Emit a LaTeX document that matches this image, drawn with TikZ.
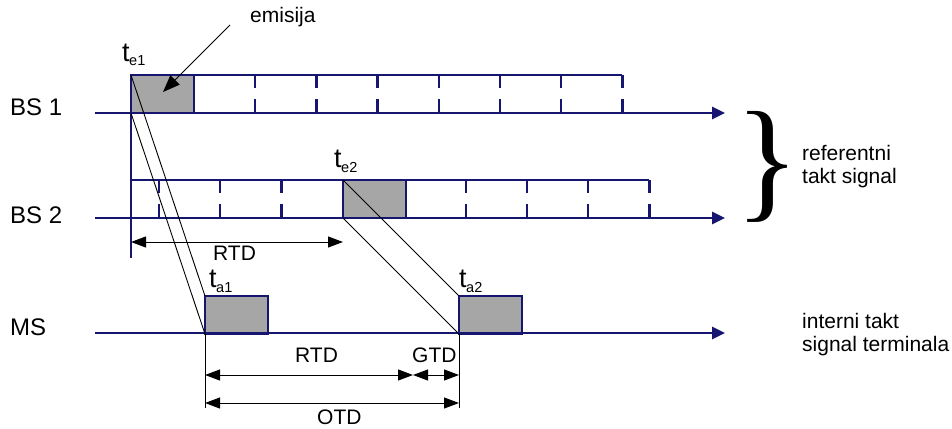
\documentclass[tikz,border=0pt]{standalone}
\usepackage{fontspec}
\setmainfont{Liberation Sans}
\newfontfamily\bracefont{Liberation Serif}
\usetikzlibrary{arrows.meta}
\definecolor{navy}{RGB}{22,22,112}
\definecolor{slotgray}{RGB}{166,166,166}
\begin{document}
\begin{tikzpicture}[x=1pt,y=-1pt,
  axis/.style={navy, line width=2.8pt, -{Triangle[length=13pt,width=12pt]}},
  clock/.style={navy, line width=2.3pt},
  slot/.style={draw=navy, fill=slotgray, line width=1.6pt, inner sep=0pt, outer sep=0pt,
               minimum width=63pt, minimum height=38pt, anchor=north west},
  ray/.style={black, line width=0.9pt},
  dim/.style={black, line width=1pt, {Triangle[length=15pt,width=11pt]}-{Triangle[length=15pt,width=11pt]}},
  rowlbl/.style={font=\fontsize{24}{24}\selectfont, inner sep=0pt, anchor=base west},
  lbl/.style={font=\fontsize{21}{21}\selectfont, inner sep=0pt, anchor=base west},
  tlbl/.style={font=\fontsize{27}{27}\selectfont, inner sep=0pt, anchor=base west},
]
\useasboundingbox (0,0) rectangle (952,428);
\newcommand{\tsub}[1]{t\kern-0.5pt\raisebox{-5pt}{\fontsize{14.5}{14.5}\selectfont #1}}

% row labels
\node[rowlbl] (bs1) at (10,115) {BS 1};
\node[rowlbl] (bs2) at (10,223) {BS 2};
\node[rowlbl] (ms)  at (10,335) {MS};

% clock grids
\draw[clock] (131,75) -- (622.4,75);
\foreach \x in {255.2,316.4,377.6,438.8,500,561.2,622.4}
  {\draw[clock] (\x,75) -- (\x,88); \draw[clock] (\x,99) -- (\x,113);}
\draw[clock] (131,180) -- (649.4,180);
\foreach \x in {159,220.2,281.4,465.8,527,588.2,649.4}
  {\draw[clock] (\x,180) -- (\x,193); \draw[clock] (\x,204) -- (\x,218);}

% slots
\node[slot] (e1) at (131,75) {};
\node[slot] (e2) at (343,180) {};
\node[slot] (a1) at (205,296) {};
\node[slot] (a2) at (459,296) {};

% reference vertical
\coordinate (v0) at (131,75);
\coordinate (v1) at (131,258);
\draw[clock] (v0) -- (v1);

% axes
\coordinate (ax1s) at (95,113);  \coordinate (ax1e) at (725,113);
\coordinate (ax2s) at (95,218);  \coordinate (ax2e) at (725,218);
\coordinate (ax3s) at (95,333);  \coordinate (ax3e) at (725,333);
\draw[axis] (ax1s) -- (ax1e);
\draw[axis] (ax2s) -- (ax2e);
\draw[axis] (ax3s) -- (ax3e);

% propagation rays
\draw[ray] (e1.north west) -- (a1.north west);
\draw[ray] (e1.south west) -- (a1.south west);
\draw[ray] (e2.north west) -- (a2.north west);
\draw[ray] (e2.south west) -- (a2.south west);

% time labels
\node[tlbl] (te1) at (122,61)  {\tsub{e1}};
\node[tlbl] (te2) at (334,167) {\tsub{e2}};
\node[tlbl] (ta1) at (209,287) {\tsub{a1}};
\node[tlbl] (ta2) at (459,287) {\tsub{a2}};

% emisija
\node[lbl] (em) at (250,23) {emisija};
\coordinate (emS) at (230,25);
\coordinate (emE) at (163,92);
\draw[black, line width=1pt, -{Triangle[length=17pt,width=13pt]}] (emS) -- (emE);

% top RTD
\coordinate (r1L) at (131,242);
\coordinate (r1R) at (343,242);
\draw[dim] (r1L) -- (r1R);
\node[lbl] (rtd1) at (213,260) {RTD};

% bottom dimensions
\coordinate (d1) at (205,408);
\coordinate (d2) at (459,408);
\draw[ray] (a1.south west) -- (d1);
\draw[ray] (a2.south west) -- (d2);
\coordinate (r2L) at (205,375);
\coordinate (r2M) at (413,375);
\coordinate (r2R) at (459,375);
\coordinate (oL) at (205,403);
\coordinate (oR) at (459,403);
\draw[dim] (r2L) -- (r2M);
\draw[dim] (r2M) -- (r2R);
\draw[dim] (oL) -- (oR);
\node[lbl] (rtd2) at (295,362) {RTD};
\node[lbl] (gtd) at (412,362) {GTD};
\node[lbl] (otd) at (317,424.5) {OTD};

% brace and right labels
\node[inner sep=0pt] (br) at (768,167) {\resizebox*{64pt}{111pt}{\bracefont\}}};
\node[lbl] (ref1) at (802,160) {referentni};
\node[lbl] (ref2) at (802,183) {takt signal};
\node[lbl] (int1) at (802,328) {interni takt};
\node[lbl] (int2) at (802,351) {signal terminala};
\end{tikzpicture}
\end{document}
